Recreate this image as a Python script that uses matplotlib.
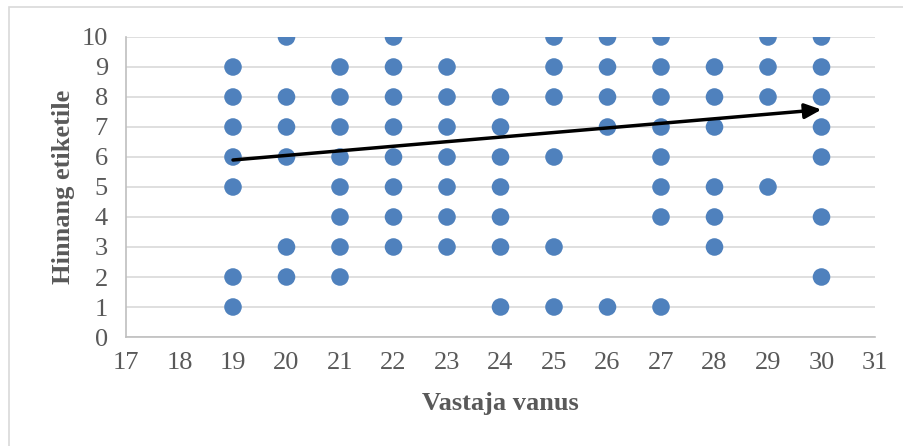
import matplotlib
matplotlib.use("Agg")
import matplotlib.pyplot as plt
from matplotlib.patches import Rectangle

# Respondent age vs. rating given to the label
age = [19, 19, 19, 19, 19, 19, 19,
       20, 20, 20, 20, 20, 20,
       21, 21, 21, 21, 21, 21, 21, 21,
       22, 22, 22, 22, 22, 22, 22, 22,
       23, 23, 23, 23, 23, 23, 23,
       24, 24, 24, 24, 24, 24, 24,
       25, 25, 25, 25, 25, 25,
       26, 26, 26, 26, 26,
       27, 27, 27, 27, 27, 27, 27, 27,
       28, 28, 28, 28, 28, 28,
       29, 29, 29, 29,
       30, 30, 30, 30, 30, 30, 30]
rating = [9, 8, 7, 6, 5, 2, 1,
          10, 8, 7, 6, 3, 2,
          9, 8, 7, 6, 5, 4, 3, 2,
          10, 9, 8, 7, 6, 5, 4, 3,
          9, 8, 7, 6, 5, 4, 3,
          8, 7, 6, 5, 4, 3, 1,
          10, 9, 8, 6, 3, 1,
          10, 9, 8, 7, 1,
          10, 9, 8, 7, 6, 5, 4, 1,
          9, 8, 7, 5, 4, 3,
          10, 9, 8, 5,
          10, 9, 8, 7, 6, 4, 2]

# Trend arrow endpoints (age, rating)
trend_start = (19, 5.9)
trend_end = (30, 7.58)

x_ticks = list(range(17, 32))
y_ticks = list(range(0, 11))

GRAY_TXT = "#595959"
plt.rcParams["font.family"] = ["Liberation Serif", "DejaVu Serif"]

fig = plt.figure(figsize=(9.04, 4.46), dpi=100)
ax = fig.add_axes([126 / 904, 1 - 337 / 446, (875 - 126) / 904, (337 - 37) / 446])

# Chart-area frame
fig.patches.append(Rectangle((9 / 904, -0.1), 1.2, 1 - 7 / 446 + 0.1,
                             transform=fig.transFigure, fill=False,
                             edgecolor="#D9D9D9", linewidth=1.2, zorder=0))

ax.set_xlim(17, 31)
ax.set_ylim(0, 10)
ax.set_xticks(x_ticks)
ax.set_yticks(y_ticks)
ax.grid(axis="y", color="#D9D9D9", linewidth=1.2, zorder=0)
ax.set_axisbelow(True)

ax.scatter(age, rating, s=160, color="#4F81BD", edgecolors="none", zorder=3)

ax.annotate("", xy=trend_end, xytext=trend_start,
            arrowprops=dict(arrowstyle="-|>,head_length=1.0,head_width=0.45",
                            color="black", linewidth=2.5, shrinkA=0, shrinkB=0),
            zorder=4)

for s in ["top", "right"]:
    ax.spines[s].set_visible(False)
for s in ["left", "bottom"]:
    ax.spines[s].set_color("#BFBFBF")
    ax.spines[s].set_linewidth(1.2)

ax.tick_params(length=0, labelsize=19, labelcolor=GRAY_TXT)
ax.tick_params(axis="y", pad=13)
ax.tick_params(axis="x", pad=11)

ax.set_xlabel("Vastaja vanus", fontsize=19, fontweight="bold", color=GRAY_TXT, labelpad=13)
ax.set_ylabel("Hinnang etiketile", fontsize=19, fontweight="bold", color=GRAY_TXT, labelpad=5)

fig.savefig("out.png", dpi=100)
